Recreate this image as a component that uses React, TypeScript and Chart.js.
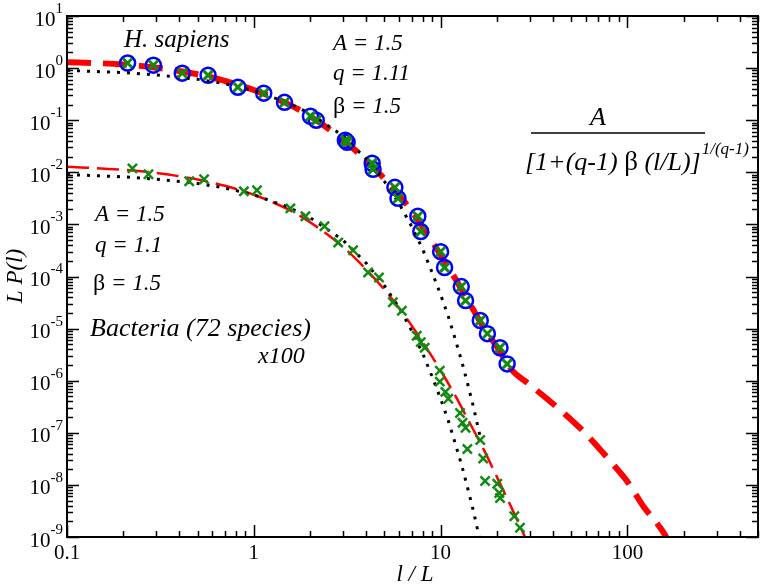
import React, { useEffect, useRef } from "react";
import { Chart, registerables } from "chart.js";
Chart.register(...registerables);

// ---------- data ----------
// H. sapiens fit (thick red dashed)
const hsFitX = [0.1, 0.15, 0.2, 0.3, 0.4, 0.5, 0.7, 1, 1.5, 2, 3, 4, 5, 6, 7, 8, 10, 12, 14, 17, 20, 22.7, 24.2, 29, 37.1, 46.2, 57.6, 71, 85.3, 101, 121.6, 148, 161, 175];
const hsFitY = [1.3, 1.24, 1.17, 1.02, 0.88, 0.76, 0.57, 0.38, 0.21, 0.12, 0.042, 0.017, 0.0075, 0.0036, 0.0018, 9e-4, 2.6e-4, 9e-5, 3.5e-5, 1.05e-5, 4.5e-6, 2.2e-6, 1.56e-6, 9.2e-7, 4.5e-7, 2.3e-7, 1.1e-7, 4.9e-8, 2.3e-8, 1.1e-8, 3.9e-9, 1.6e-9, 1e-9, 5e-10];

// Bacteria fit (thin red dashed), already x100 shifted
const bacFitX = [0.1, 0.2, 0.3, 0.5, 0.7, 1, 1.5, 2, 3, 4, 5, 6, 7, 8, 10, 12, 14, 17, 20, 24, 28, 30];
const bacFitY = [0.0128, 0.0112, 0.0097, 0.0073, 0.0055, 0.0037, 0.002, 0.0011, 3.7e-4, 1.36e-4, 5.6e-5, 2.45e-5, 1.14e-5, 5.6e-6, 1.57e-6, 5.1e-7, 1.8e-7, 4.8e-8, 1.43e-8, 3.6e-9, 1.08e-9, 6e-10];

// exponential reference curves (black dotted)
const expX = [0.1, 0.2, 0.3, 0.5, 0.7, 1, 1.5, 2, 3, 4, 5, 6, 7, 8, 9, 10, 11, 12, 13, 14, 15, 16, 16.5];
const hsExpY = [0.905, 0.82, 0.74, 0.61, 0.5, 0.37, 0.22, 0.135, 0.05, 0.018, 0.0067, 0.0025, 9.1e-4, 3.4e-4, 1.2e-4, 4.5e-5, 1.7e-5, 6.1e-6, 2.3e-6, 8.3e-7, 3.1e-7, 1.1e-7, 6.8e-8];
const bacExpY = [0.00905, 0.0082, 0.0074, 0.0061, 0.005, 0.0037, 0.0022, 0.00135, 5e-4, 1.8e-4, 6.7e-5, 2.5e-5, 9.1e-6, 3.4e-6, 1.2e-6, 4.5e-7, 1.7e-7, 6.1e-8, 2.3e-8, 8.3e-9, 3.1e-9, 1.1e-9, 6.8e-10];

// H. sapiens data (blue circles + green crosses)
const hsDataX = [0.211, 0.29, 0.414, 0.569, 0.822, 1.13, 1.46, 2.01, 2.16, 3.09, 3.16, 4.3, 4.35, 5.69, 5.91, 7.55, 7.83, 10, 10.5, 12.9, 13.6, 16.3, 17.8, 20.8, 22.7];
const hsDataY = [1.25, 1.14, 0.8, 0.73, 0.43, 0.33, 0.22, 0.119, 0.1, 0.0412, 0.0378, 0.0149, 0.0114, 0.00515, 0.00316, 0.00143, 7.3e-4, 3.0e-4, 1.49e-4, 6.4e-5, 3.45e-5, 1.43e-5, 8.0e-6, 4.3e-6, 2.1e-6];

// Bacteria data (green crosses), x100
const bacDataX = [0.224, 0.273, 0.451, 0.542, 0.885, 1.04, 1.57, 1.89, 2.39, 2.83, 3.4, 4.09, 4.68, 5.55, 6.2, 7.45, 7.83, 8.22, 9.9, 9.9, 10.6, 11.0, 12.7, 13.1, 13.6, 13.9, 16.3, 16.9, 17.3, 20.1, 20.6, 20.8, 24.8, 26.6];
const bacDataY = [0.0119, 0.00916, 0.00671, 0.00733, 0.00431, 0.00451, 0.00203, 0.00143, 9.2e-4, 4.5e-4, 3.2e-4, 1.19e-4, 9.6e-5, 3.2e-5, 2.2e-5, 7.3e-6, 5.5e-6, 4.3e-6, 1.56e-6, 9.6e-7, 6.1e-7, 4.5e-7, 2.4e-7, 1.56e-7, 1.25e-7, 4.9e-8, 7.3e-8, 3.2e-8, 1.19e-8, 1.05e-8, 7e-9, 5.6e-9, 2.5e-9, 1.5e-9];

// axis ranges and tick labels
const xMin = 0.1, xMax = 500;
const yMin = 1e-9, yMax = 10;
const xTickLabels = [
  { v: 0.1, t: "0.1" },
  { v: 1, t: "1" },
  { v: 10, t: "10" },
  { v: 100, t: "100" },
];
const yTickExps = [1, 0, -1, -2, -3, -4, -5, -6, -7, -8, -9];

const pts = (xs: number[], ys: number[]) => xs.map((x, i) => ({ x, y: ys[i] }));

const SERIF = '"Liberation Serif", "DejaVu Serif", serif';

type Part = { t: string; italic?: boolean; size?: number; dy?: number };

function drawParts(ctx: CanvasRenderingContext2D, x: number, y: number, parts: Part[], base: number) {
  let cx = x;
  for (const p of parts) {
    const size = p.size ?? base;
    ctx.font = `${p.italic === false ? "" : "italic "}${size}px ${SERIF}`;
    ctx.textAlign = "left";
    ctx.textBaseline = "middle";
    ctx.fillText(p.t, cx, y + (p.dy ?? 0));
    cx += ctx.measureText(p.t).width;
  }
  return cx;
}

const overlayPlugin = {
  id: "overlay",
  afterDraw(chart: any) {
    const ctx: CanvasRenderingContext2D = chart.ctx;
    const { left, right, top, bottom } = chart.chartArea;
    const xs = chart.scales.x;
    const ys = chart.scales.y;
    ctx.save();
    ctx.fillStyle = "#000";
    ctx.strokeStyle = "#000";
    // frame
    ctx.lineWidth = 2;
    ctx.strokeRect(left, top, right - left, bottom - top);
    // ticks
    ctx.lineWidth = 1.5;
    ctx.beginPath();
    for (let e = -1; e <= 2; e++) {
      for (let m = 1; m <= 9; m++) {
        const v = m * Math.pow(10, e);
        if (v < xMin - 1e-12 || v > xMax + 1e-9) continue;
        const px = Math.round(xs.getPixelForValue(v)) + 0.5;
        const len = m === 1 ? 12 : 6;
        ctx.moveTo(px, bottom);
        ctx.lineTo(px, bottom - len);
        ctx.moveTo(px, top);
        ctx.lineTo(px, top + len);
      }
    }
    for (let e = -9; e <= 1; e++) {
      for (let m = 1; m <= 9; m++) {
        const v = m * Math.pow(10, e);
        if (v < yMin * 0.999 || v > yMax * 1.001) continue;
        const py = Math.round(ys.getPixelForValue(v)) + 0.5;
        const len = m === 1 ? 12 : 6;
        ctx.moveTo(left, py);
        ctx.lineTo(left + len, py);
        ctx.moveTo(right, py);
        ctx.lineTo(right - len, py);
      }
    }
    ctx.stroke();

    // x tick labels
    ctx.font = `21px ${SERIF}`;
    ctx.textAlign = "center";
    ctx.textBaseline = "middle";
    for (const l of xTickLabels) {
      ctx.fillText(l.t, xs.getPixelForValue(l.v), bottom + 16);
    }
    // y tick labels 10^e
    for (const e of yTickExps) {
      const py = ys.getPixelForValue(Math.pow(10, e));
      const expStr = String(e);
      ctx.font = `15px ${SERIF}`;
      const ew = ctx.measureText(expStr).width;
      const rightEdge = left - 4;
      ctx.textAlign = "right";
      ctx.textBaseline = "middle";
      ctx.fillText(expStr, rightEdge, py - 7);
      ctx.font = `21px ${SERIF}`;
      ctx.fillText("10", rightEdge - ew, py + 4);
    }

    // axis titles
    ctx.save();
    ctx.translate(16, 276);
    ctx.rotate(-Math.PI / 2);
    ctx.font = `italic 23px ${SERIF}`;
    ctx.textAlign = "center";
    ctx.textBaseline = "middle";
    ctx.fillText("L P(l)", 0, 0);
    ctx.restore();
    ctx.font = `italic 23px ${SERIF}`;
    ctx.textAlign = "center";
    ctx.textBaseline = "middle";
    ctx.fillText("l / L", 415, 575);

    // annotations
    ctx.font = `italic 25px ${SERIF}`;
    ctx.textAlign = "left";
    ctx.fillText("H. sapiens", 124, 40);

    drawParts(ctx, 333, 44, [{ t: "A = 1.5" }], 23);
    drawParts(ctx, 333, 74, [{ t: "q = 1.11" }], 23);
    drawParts(ctx, 333, 107, [{ t: "β", italic: false, size: 24 }, { t: " = 1.5" }], 23);

    drawParts(ctx, 95, 215, [{ t: "A = 1.5" }], 23);
    drawParts(ctx, 95, 246, [{ t: "q = 1.1" }], 23);
    drawParts(ctx, 93, 284, [{ t: "β", italic: false, size: 24 }, { t: " = 1.5" }], 23);

    drawParts(ctx, 90, 329, [{ t: "Bacteria (72 species)" }], 26);
    drawParts(ctx, 258, 357, [{ t: "x100" }], 24);

    // formula
    ctx.font = `italic 26px ${SERIF}`;
    ctx.textAlign = "center";
    ctx.textBaseline = "middle";
    ctx.fillText("A", 598, 118);
    ctx.lineWidth = 1.5;
    ctx.beginPath();
    ctx.moveTo(531, 133);
    ctx.lineTo(705, 133);
    ctx.stroke();
    const endX = drawParts(
      ctx,
      525,
      163,
      [{ t: "[1+(q-1) " }, { t: "β", italic: false, size: 27 }, { t: " (l/L)]" }],
      26
    );
    drawParts(ctx, endX + 1, 150, [{ t: "1/(q-1)" }], 17);
    ctx.restore();
  },
};

export default function App() {
  const ref = useRef<HTMLCanvasElement>(null);
  useEffect(() => {
    const canvas = ref.current!;
    const chart = new Chart(canvas, {
      type: "scatter",
      data: {
        datasets: [
          {
            label: "H. sapiens data x",
            data: pts(hsDataX, hsDataY),
            showLine: false,
            pointStyle: "crossRot",
            pointRadius: 6.5,
            borderWidth: 3,
            borderColor: "#128a12",
            backgroundColor: "#128a12",
            order: 0,
          },
          {
            label: "Bacteria data x",
            data: pts(bacDataX, bacDataY),
            showLine: false,
            pointStyle: "crossRot",
            pointRadius: 6.5,
            borderWidth: 2.5,
            borderColor: "#128a12",
            backgroundColor: "#128a12",
            order: 0,
          },
          {
            label: "H. sapiens exp",
            data: pts(expX, hsExpY),
            showLine: true,
            pointRadius: 0,
            borderColor: "#000",
            borderWidth: 3,
            borderDash: [3, 7],
            borderCapStyle: "butt",
            fill: false,
            order: 1,
          },
          {
            label: "Bacteria exp",
            data: pts(expX, bacExpY),
            showLine: true,
            pointRadius: 0,
            borderColor: "#000",
            borderWidth: 3,
            borderDash: [3, 7],
            borderCapStyle: "butt",
            fill: false,
            order: 1,
          },
          {
            label: "H. sapiens data o",
            data: pts(hsDataX, hsDataY),
            showLine: false,
            pointStyle: "circle",
            pointRadius: 7.5,
            borderWidth: 2.5,
            borderColor: "#0000ff",
            backgroundColor: "rgba(0,0,0,0)",
            order: 2,
          },
          {
            label: "H. sapiens fit",
            data: pts(hsFitX, hsFitY),
            showLine: true,
            pointRadius: 0,
            borderColor: "#ff0000",
            borderWidth: 6,
            borderDash: [24, 12],
            borderCapStyle: "butt",
            cubicInterpolationMode: "monotone",
            fill: false,
            order: 3,
          },
          {
            label: "Bacteria fit",
            data: pts(bacFitX, bacFitY),
            showLine: true,
            pointRadius: 0,
            borderColor: "#ff0000",
            borderWidth: 2.5,
            borderDash: [22, 8],
            borderCapStyle: "butt",
            cubicInterpolationMode: "monotone",
            fill: false,
            order: 3,
          },
        ],
      },
      options: {
        animation: false,
        responsive: false,
        maintainAspectRatio: false,
        layout: { padding: { left: 67, right: 6, top: 16, bottom: 49 } },
        scales: {
          x: { type: "logarithmic", min: xMin, max: xMax, display: false },
          y: { type: "logarithmic", min: yMin, max: yMax, display: false },
        },
        plugins: { legend: { display: false }, tooltip: { enabled: false } },
      },
      plugins: [overlayPlugin],
    } as any);
    return () => chart.destroy();
  }, []);
  return (
    <div style={{ position: "fixed", left: 0, top: 0, width: 768, height: 586, background: "#fff" }}>
      <canvas ref={ref} width={768} height={586} style={{ width: 768, height: 586, display: "block" }} />
    </div>
  );
}
